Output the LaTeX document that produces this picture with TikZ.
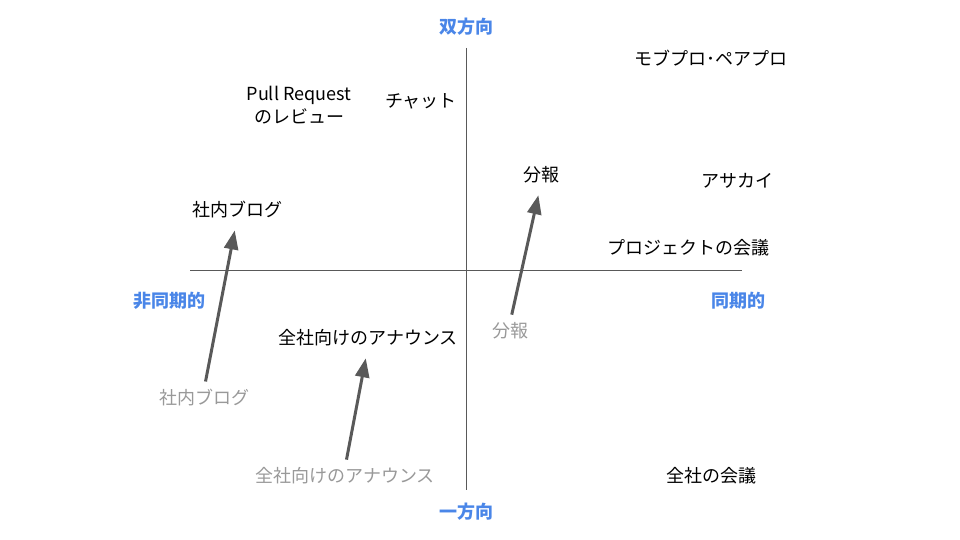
\documentclass[tikz,border=0pt]{standalone}
\usepackage{fontspec}
\setmainfont{Noto Sans CJK JP}
\usetikzlibrary{arrows.meta}
\definecolor{axisblue}{HTML}{4A86E8}
\definecolor{arrgray}{HTML}{595959}
\definecolor{lightgray}{HTML}{999999}
\tikzset{
  lbl/.style={font=\fontsize{18}{22}\selectfont, text=black, inner sep=0pt, align=center},
  ghost/.style={lbl, text=lightgray},
  axislbl/.style={font=\fontsize{18}{22}\selectfont\bfseries, text=axisblue, inner sep=0pt},
  axisline/.style={draw=arrgray, line width=0.9pt},
  arr/.style={draw=arrgray, line width=3pt, -{Triangle[length=19pt,width=14pt]},
    shorten <=8pt, shorten >=12pt}
}
\begin{document}
\begin{tikzpicture}[x=1pt,y=-1pt]
\useasboundingbox (0,0) rectangle (960,540);
% axes
\coordinate (vt) at (466,48);
\coordinate (vb) at (466,490);
\coordinate (hl) at (190,270);
\coordinate (hr) at (742,270);
\draw[axisline] (vt) -- (vb);
\draw[axisline] (hl) -- (hr);
% axis labels
\node[axislbl] (top) at (466,27) {双方向};
\node[axislbl] (bottom) at (466,512) {一方向};
\node[axislbl] (left) at (169,301) {非同期的};
\node[axislbl] (right) at (738,301) {同期的};
% items
\node[lbl] (pr) at (299,105) {Pull Request\\[1pt]のレビュー};
\node[lbl] (chat) at (421,101) {チャット};
\node[lbl] (mob) at (711,58) {モブプロ･ペアプロ};
\node[lbl] (bunpo) at (541,175) {分報};
\node[lbl] (asakai) at (737,181) {アサカイ};
\node[lbl] (blog) at (237,210) {社内ブログ};
\node[lbl] (proj) at (688,248) {プロジェクトの会議};
\node[lbl] (announce) at (368,338) {全社向けのアナウンス};
\node[lbl] (allmeet) at (711,476) {全社の会議};
% former positions
\node[ghost] (bunpo0) at (510,331) {分報};
\node[ghost] (blog0) at (204,398) {社内ブログ};
\node[ghost] (announce0) at (345,476) {全社向けのアナウンス};
% arrows
\draw[arr] (blog0.north) -- (blog.south);
\draw[arr] (announce0.north) -- (announce.south);
\draw[arr] (bunpo0.north) -- (bunpo.south);
\end{tikzpicture}
\end{document}
